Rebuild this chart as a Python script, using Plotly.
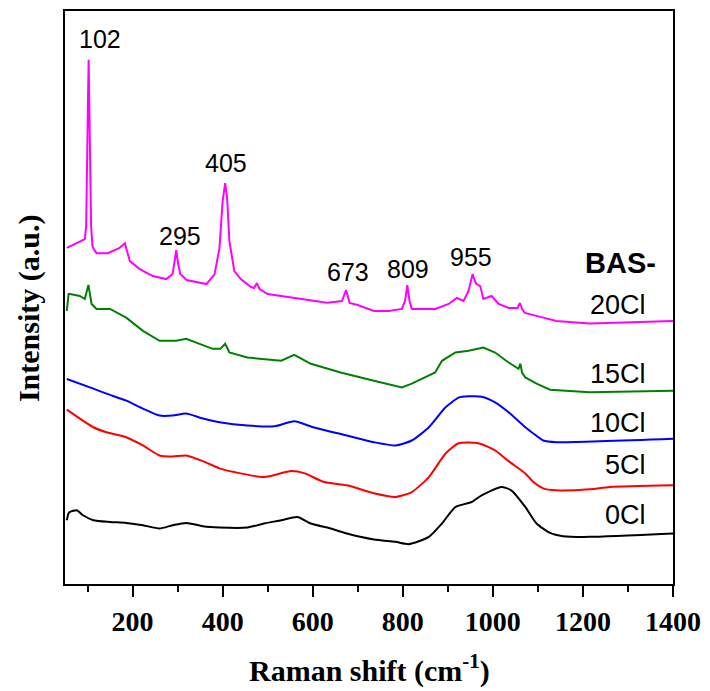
import plotly.graph_objects as go

# Raman shift (cm-1) and intensity (a.u., stacked offsets as in the figure)
x_20 = [54, 70, 83, 94, 97, 99, 101, 102.5, 104, 106, 108, 111, 113, 120, 145, 170, 183, 194, 216, 245,
        275, 289, 293, 297, 301, 306, 320, 364, 382, 393, 400, 405.6, 410, 415, 426, 441, 463, 470, 476, 482,
        500, 530, 560, 600, 632, 665, 674, 682, 700, 736, 769, 798, 805, 810, 815, 820, 872, 902, 920, 935,
        946, 955, 960, 964, 972, 979, 990, 997, 1013, 1035, 1055, 1060, 1065, 1071, 1112, 1141, 1215, 1289, 1400]
y_20 = [337.3, 341, 344, 346, 359, 404, 484, 526, 484, 404, 359, 339, 337, 332, 332, 337, 342, 324, 316, 309,
        306, 311, 322, 335, 322, 311, 305, 301, 310.7, 337.3, 384, 402.3, 387.3, 344, 314, 305.7, 298, 297, 302, 296,
        291, 289, 287, 284, 282.3, 284, 295, 282, 280, 274, 274, 276, 284, 300, 284, 276, 276, 281, 287, 284,
        294, 311, 304, 301, 299, 286, 288, 289, 281, 277, 277, 282, 276, 272, 267.3, 264, 261.3, 262.3, 264]

x_15 = [54, 58, 61, 83, 94, 98, 102, 105, 109, 120, 150, 186, 223, 260, 297, 319, 349, 378, 395, 405.6,
        415, 455, 530, 559, 596, 662, 736, 762, 798, 820, 850, 872, 887, 917, 946, 979, 1005, 1035, 1057, 1061,
        1065, 1072, 1097, 1127, 1215, 1400]
y_15 = [274, 291, 291, 289, 286, 294, 300, 292, 281, 276, 276, 267.3, 254, 244, 244, 246, 241, 236, 236, 241,
        232.3, 227.3, 224, 230, 221, 212.3, 204, 201, 197.3, 201, 207.3, 212.3, 224, 232.3, 234, 237.3, 232.3, 222.3, 216, 221,
        212, 207.3, 201, 195, 192.3, 194]

x_10 = [54, 113, 142, 186, 223, 260, 289, 319, 356, 393, 455, 515, 559, 603, 676, 736, 784, 820, 858, 895,
        924, 946, 975, 1005, 1035, 1072, 1090, 1112, 1141, 1400]
y_10 = [205.7, 196, 191, 184, 176, 169, 169, 171, 166, 162.3, 159, 158.3, 163.3, 157, 149, 142.3, 139, 144, 157.3, 177.3,
        187, 188.3, 188, 182.3, 172.3, 157.3, 151, 144, 142.3, 145.7]

x_5 = [54, 113, 142, 186, 223, 260, 289, 319, 356, 393, 426, 492, 552, 581, 625, 676, 736, 784, 820, 858,
       895, 924, 968, 1005, 1035, 1072, 1090, 1112, 1141, 1215, 1260, 1400]
y_5 = [175, 157.3, 152.3, 147.3, 139, 129, 128, 129, 123.3, 116, 112.3, 107.3, 113.3, 111.3, 102.3, 99, 91, 87.3, 92.3, 107.3,
       131, 141.3, 141.3, 134, 123.3, 111, 102.3, 96, 94, 95, 97.3, 99]

x_0 = [54, 58, 61, 76, 90, 113, 150, 186, 223, 260, 289, 319, 356, 393, 455, 492, 530, 566, 596, 640,
       676, 736, 784, 813, 858, 887, 917, 953, 975, 1019, 1041, 1072, 1097, 1127, 1156, 1215, 1400]
y_0 = [64, 71, 72.3, 74, 69, 64, 62.3, 61.3, 59, 55.7, 59, 61.3, 58, 56.7, 56.7, 60.7, 64, 67.3, 60.7, 55.7,
       50.7, 44.7, 42.3, 40, 47.3, 60.7, 77.3, 82.3, 89, 97.3, 94, 77.3, 60.7, 51.3, 48, 47.3, 50.7]

series_names = ["20Cl", "15Cl", "10Cl", "5Cl", "0Cl"]
series_colors = ["#FF00FF", "#008000", "#0000FF", "#FF0000", "#000000"]
series_x = [x_20, x_15, x_10, x_5, x_0]
series_y = [y_20, y_15, y_10, y_5, y_0]
series_smooth = [False, False, True, True, True]

# sample label positions (x, y) in data coordinates
label_y = [280, 211, 162, 119, 69]
label_x = 1345

# peak labels
peak_text = ["102", "295", "405", "673", "809", "955"]
peak_x = [127.5, 304.5, 408.5, 678.5, 811, 950.6]
peak_y = [546.5, 349, 422, 313, 316, 328]

tick_vals = [200, 400, 600, 800, 1000, 1200, 1400]

fig = go.Figure()
for name, color, xs, ys, sm in zip(series_names, series_colors, series_x, series_y, series_smooth):
    line = dict(color=color, width=2)
    if sm:
        line.update(shape="spline", smoothing=0.6)
    fig.add_trace(go.Scatter(x=xs, y=ys, mode="lines", name=name, line=line, showlegend=False))

serif = "Times New Roman, Liberation Serif, serif"
sans = "Arial, Liberation Sans, sans-serif"

annotations = []
for t, xv, yv in zip(peak_text, peak_x, peak_y):
    annotations.append(dict(x=xv, y=yv, text=t, showarrow=False, xanchor="center", yanchor="middle",
                            font=dict(family=sans, size=25, color="black")))
for name, yv in zip(series_names, label_y):
    annotations.append(dict(x=label_x, y=yv, text=name, showarrow=False, xanchor="right", yanchor="middle",
                            font=dict(family=sans, size=27, color="black")))
annotations.append(dict(x=1283, y=322, text="<b>BAS-</b>", showarrow=False, xanchor="center", yanchor="middle",
                        font=dict(family=sans, size=29, color="black")))
annotations.append(dict(x=-0.058, y=0.481, xref="paper", yref="paper", text="<b>Intensity (a.u.)</b>",
                        textangle=-90, showarrow=False, xanchor="center", yanchor="middle",
                        font=dict(family=serif, size=30, color="black")))
annotations.append(dict(x=0.5, y=-0.148, xref="paper", yref="paper", text="<b>Raman shift (cm<sup>-1</sup>)</b>",
                        showarrow=False, xanchor="center", yanchor="middle",
                        font=dict(family=serif, size=30, color="black")))

fig.update_layout(
    width=710, height=691,
    margin=dict(l=65, r=35, t=9, b=107),
    paper_bgcolor="white", plot_bgcolor="white",
    annotations=annotations,
    xaxis=dict(range=[50, 1400], tickvals=tick_vals, ticks="outside", ticklen=11, tickwidth=2,
               tickcolor="black", showline=True, linecolor="black", linewidth=2, mirror=True,
               showgrid=False, zeroline=False,
               tickfont=dict(family=serif, size=28, color="black", weight="bold"),
               minor=dict(dtick=100, tick0=0, ticks="outside", ticklen=6, tickwidth=2, tickcolor="black",
                          showgrid=False)),
    yaxis=dict(range=[0, 575], showticklabels=False, ticks="", showline=True, linecolor="black",
               linewidth=2, mirror=True, showgrid=False, zeroline=False),
)

fig.write_html("out.html")
